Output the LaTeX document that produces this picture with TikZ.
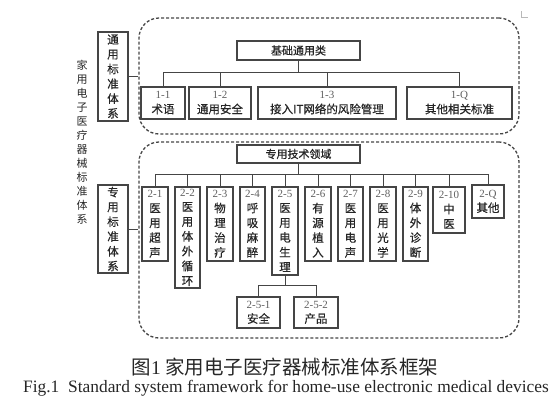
\documentclass[tikz,border=0pt]{standalone}
\usepackage{fontspec}
\setmainfont{Liberation Serif}
\newfontfamily\cjk{Noto Sans CJK SC}
\newfontfamily\cjkm{Noto Sans CJK SC}[FakeBold=0.7]
\newfontfamily\numf{Liberation Serif}
\definecolor{lc}{HTML}{454545}
\definecolor{tc}{HTML}{262626}
\definecolor{nc}{HTML}{5E5E5E}
\newcommand\num[1]{{\numf\mdseries\color{nc}\fontsize{11}{14.5}\selectfont #1}}
\begin{document}
\begin{tikzpicture}[x=1pt,y=-1pt,
  bx/.style={draw=lc, line width=1.2pt, inner sep=0pt, align=center, text=tc,
    font=\cjkm\fontsize{11.5}{14.5}\selectfont},
  vt/.style={bx, font=\cjkm\fontsize{11.5}{14.8}\selectfont},
  dbox/.style={draw=lc, line width=1.3pt, dash pattern=on 3pt off 2pt, rounded corners=20pt, inner sep=0pt},
  ln/.style={draw=lc, line width=1pt}]
\useasboundingbox (0,0) rectangle (558,405);

% outer label
\node[align=center, text=tc, font=\cjk\fontsize{11}{14}\selectfont, inner sep=0pt] (outer) at (82,142)
  {家\\用\\电\\子\\医\\疗\\器\\械\\标\\准\\体\\系};

% dashed groups
\node[dbox, minimum width=380pt, minimum height=116pt] (g1) at (329,76) {};
\node[dbox, minimum width=380pt, minimum height=196pt] (g2) at (329,240) {};

% side boxes
\node[vt, minimum width=30pt, minimum height=89pt] (top1) at (113,76.5) {通\\用\\标\\准\\体\\系};
\node[vt, minimum width=30pt, minimum height=88pt] (bot1) at (113,229) {专\\用\\标\\准\\体\\系};
\draw[ln] (top1.east) -- (top1.east -| g1.west);
\draw[ln] (bot1.east) -- (bot1.east -| g2.west);

% top tree
\node[bx, minimum width=123pt, minimum height=19pt, font=\cjkm\fontsize{11}{12}\selectfont] (jc) at (298.5,50.5) {基础通用类};
\node[bx, minimum width=44pt, minimum height=32pt] (b11) at (163,103) {\num{1-1}\\术语};
\node[bx, minimum width=62pt, minimum height=32pt] (b12) at (220,103) {\num{1-2}\\通用安全};
\node[bx, minimum width=138pt, minimum height=32pt] (b13) at (327,103) {\num{1-3}\\接入IT网络的风险管理};
\node[bx, minimum width=105pt, minimum height=32pt] (b1Q) at (459.5,103) {\num{1-Q}\\其他相关标准};
\coordinate (bus1) at (0,72);
\draw[ln] (jc.south) -- (jc.south |- bus1);
\draw[ln] (b11.north |- bus1) -- (b1Q.north |- bus1);
\foreach \n in {b11,b12,b13,b1Q} \draw[ln] (\n.north) -- (\n.north |- bus1);

% bottom tree
\node[bx, minimum width=123pt, minimum height=18pt, font=\cjkm\fontsize{11}{12}\selectfont] (zy) at (298.5,154) {专用技术领域};
\node[vt, minimum width=26pt, minimum height=74pt] (b21) at (155,224) {\num{2-1}\\医\\用\\超\\声};
\node[vt, minimum width=25pt, minimum height=101pt] (b22) at (187.5,237.5) {\num{2-2}\\医\\用\\体\\外\\循\\环};
\node[vt, minimum width=26pt, minimum height=74pt] (b23) at (220,224) {\num{2-3}\\物\\理\\治\\疗};
\node[vt, minimum width=25pt, minimum height=74pt] (b24) at (252.5,224) {\num{2-4}\\呼\\吸\\麻\\醉};
\node[vt, minimum width=26pt, minimum height=88pt] (b25) at (285,231) {\num{2-5}\\医\\用\\电\\生\\理};
\node[vt, minimum width=26pt, minimum height=74pt] (b26) at (318,224) {\num{2-6}\\有\\源\\植\\入};
\node[vt, minimum width=25pt, minimum height=74pt] (b27) at (350.5,224) {\num{2-7}\\医\\用\\电\\声};
\node[vt, minimum width=26pt, minimum height=74pt] (b28) at (383,224) {\num{2-8}\\医\\用\\光\\学};
\node[vt, minimum width=25pt, minimum height=74pt] (b29) at (415.5,224) {\num{2-9}\\体\\外\\诊\\断};
\node[vt, minimum width=32pt, minimum height=46pt] (b210) at (449,210) {\num{2-10}\\中\\医};
\node[vt, minimum width=32pt, minimum height=33pt] (b2Q) at (488,201.5) {\num{2-Q}\\其他};
\coordinate (bus2) at (0,174);
\draw[ln] (zy.south) -- (zy.south |- bus2);
\draw[ln] (b21.north |- bus2) -- (b2Q.north |- bus2);
\foreach \n in {b21,b22,b23,b24,b25,b26,b27,b28,b29,b210,b2Q} \draw[ln] (\n.north) -- (\n.north |- bus2);

% 2-5 subtree
\node[bx, minimum width=43pt, minimum height=31pt] (b251) at (258.5,312.5) {\num{2-5-1}\\安全};
\node[bx, minimum width=44pt, minimum height=31pt] (b252) at (316,312.5) {\num{2-5-2}\\产品};
\coordinate (bus3) at (0,285);
\draw[ln] (b25.south) -- (b25.south |- bus3);
\draw[ln] (b251.north |- bus3) -- (b252.north |- bus3);
\foreach \n in {b251,b252} \draw[ln] (\n.north) -- (\n.north |- bus3);

% crop mark
\draw[gray!55, line width=0.6pt] (521,11) -- (521,17) -- (528,17);

% captions
\node[text=tc, inner sep=0pt, font=\cjk\fontsize{19.5}{21}\selectfont] (cap1) at (285,367) {图{\numf 1} 家用电子医疗器械标准体系框架};
\node[text=tc, inner sep=0pt, font=\numf\fontsize{17.4}{19}\selectfont] (cap2) at (286,388) {Fig.1\ \ Standard system framework for home-use electronic medical devices};
\end{tikzpicture}
\end{document}
